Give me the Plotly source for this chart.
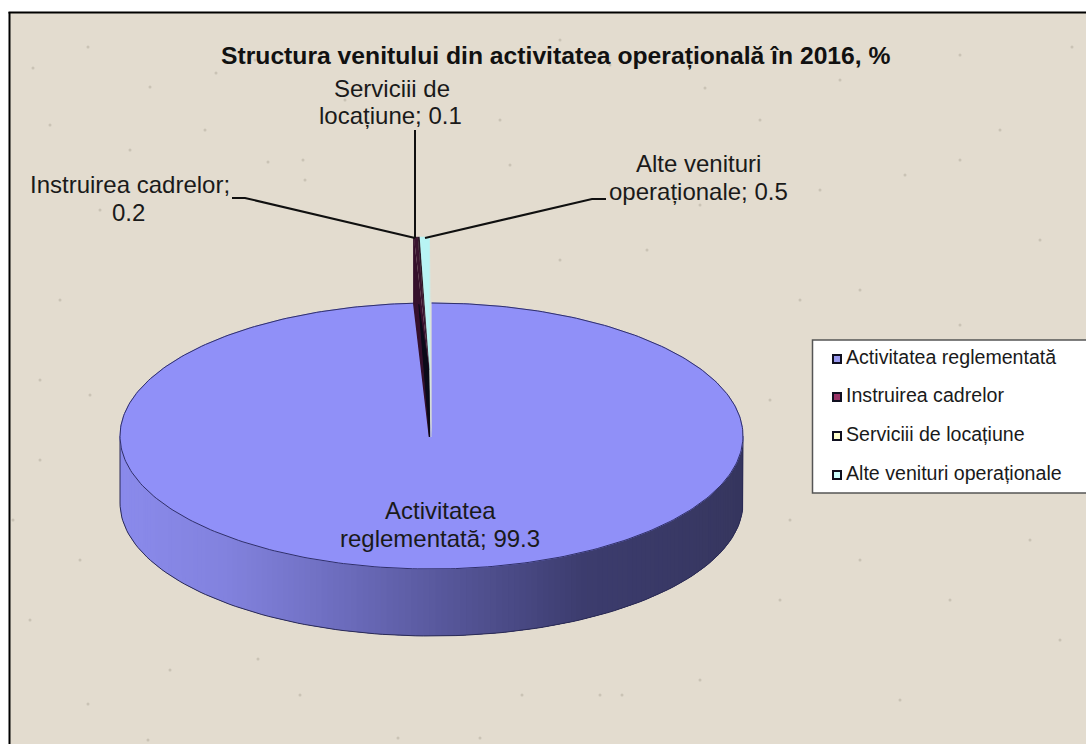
import math
import plotly.graph_objects as go

# ---- data ----
categories = ["Activitatea reglementată", "Instruirea cadrelor", "Serviciii de locațiune", "Alte venituri operaționale"]
values = [99.3, 0.2, 0.1, 0.5]
title_text = "Structura venitului din activitatea operațională în 2016, %"
top_colors = ["#9090F8", "#3A1530", "#2A1A28", "#B8F4F4"]
legend_colors = ["#9999EE", "#993366", "#FFFFCC", "#CCFFFF"]

# ---- layout geometry (pixels of the 1086x744 canvas) ----
W, H = 1086, 744
CX, CY, RX, RY, DEPTH = 431.5, 436, 311.5, 133, 67
EXPLODE_X, EXPLODE_Y = -2, -66
TEXT = "#1a1a1a"
FONT = "Liberation Sans"

# side wall shading, keyed on horizontal position across the pie (0 = left, 1 = right)
wall_stops = [(0.0, (138, 138, 235)), (0.15, (130, 130, 222)), (0.3, (112, 112, 195)),
              (0.52, (84, 84, 150)), (0.72, (60, 60, 110)), (1.0, (54, 54, 94))]

# faint specks of the paper texture background
specks = [(150, 87), (33, 68), (88, 47), (50, 125), (130, 150), (100, 210), (205, 130), (216, 73), (303, 160),
          (362, 88), (305, 180), (268, 162), (345, 100), (255, 60), (500, 120), (610, 65), (705, 88), (760, 120),
          (840, 80), (960, 55), (1072, 47), (1000, 130), (905, 175), (820, 190), (960, 160), (1040, 240), (860, 290),
          (700, 205), (647, 250), (560, 260), (510, 165), (560, 40), (60, 300), (90, 395), (40, 460), (80, 560),
          (30, 620), (88, 704), (148, 740), (258, 659), (300, 695), (522, 695), (600, 695), (622, 695), (700, 680),
          (780, 600), (860, 560), (950, 600), (1030, 540), (1060, 640), (900, 700), (480, 738), (398, 738), (170, 670),
          (800, 300), (960, 325), (770, 400), (790, 520), (13, 520), (40, 380)]


def lerp_color(t):
    for (a, ca), (b, cb) in zip(wall_stops, wall_stops[1:]):
        if t <= b:
            f = (t - a) / (b - a)
            return "rgb(%d,%d,%d)" % tuple(round(p + (q - p) * f) for p, q in zip(ca, cb))
    return "rgb(%d,%d,%d)" % wall_stops[-1][1]


def rim(a, dx=0.0, dy=0.0):
    """point on the pie rim; a = clockwise angle in degrees from 12 o'clock"""
    r = math.radians(a)
    return CX + dx + RX * math.sin(r), CY + dy - RY * math.cos(r)


def arc(a0, a1, n, dx=0.0, dy=0.0):
    pts = [rim(a0 + (a1 - a0) * i / n, dx, dy) for i in range(n + 1)]
    return [p[0] for p in pts], [p[1] for p in pts]


fig = go.Figure()


def poly(xs, ys, fill, line=None, lw=1, name=""):
    fig.add_trace(go.Scatter(x=xs, y=ys, mode="lines", fill="toself", fillcolor=fill, name=name,
                             line=dict(color=line or fill, width=lw), hoverinfo="skip", showlegend=False))


# background specks
fig.add_trace(go.Scatter(x=[s[0] for s in specks], y=[s[1] for s in specks], mode="markers",
                         marker=dict(size=3, color="#B9B2A4", opacity=0.6), hoverinfo="skip", showlegend=False))

# angles of the slices, clockwise from 12 o'clock
total = sum(values)
angles = [0]
for v in values:
    angles.append(angles[-1] + v / total * 360)
main_end = angles[1]

# front wall of the main slice: overlapping strips painted from right to left, so no seams
N = 160
for i in range(N):
    a1 = 90 + 180 * (i + 1) / N
    a0 = max(90, 90 + 180 * i / N - 3)
    xa, ya = arc(a0, a1, 4)
    xb, yb = arc(a1, a0, 4, 0, DEPTH)
    tm = (rim(a1 - 90 / N)[0] - (CX - RX)) / (2 * RX)
    fig.add_trace(go.Scatter(x=xa + xb, y=ya + yb, mode="lines", fill="toself", fillcolor=lerp_color(tm),
                             line=dict(width=0), hoverinfo="skip", showlegend=False))
# outline of the wall
xo, yo = arc(90, 270, 120, 0, DEPTH)
x1, y1 = rim(90)
x2, y2 = rim(270)
fig.add_trace(go.Scatter(x=[x1] + xo + [x2], y=[y1] + yo + [y2], mode="lines", line=dict(color="#2b2b55", width=1),
                         hoverinfo="skip", showlegend=False))

# main slice top
xs, ys = arc(0, main_end, 360)
poly(xs + [CX], ys + [CY], top_colors[0], "#8a8aee", 1, categories[0])
fig.add_trace(go.Scatter(x=xs, y=ys, mode="lines", line=dict(color="#30306a", width=1), hoverinfo="skip", showlegend=False))

# pulled-out small slices: cut walls first, then tops
ax, ay = CX + EXPLODE_X, CY + EXPLODE_Y
lx, ly = rim(angles[1], EXPLODE_X, EXPLODE_Y)
rx_, ry_ = rim(360, EXPLODE_X, EXPLODE_Y)
poly([lx, lx, ax, ax], [ly, ly + DEPTH, ay + DEPTH, ay], "#35102c", "#35102c", 1.5, "wall")
poly([lx + 5, ax, ax], [ly + DEPTH, ay + DEPTH, ay], "#0a0a18", "#0a0a18", 1, "wall low")
poly([rx_, rx_ + 1.5, ax + 1.5, ax], [ry_, ry_ + DEPTH, ay + DEPTH, ay], "#d8e4dc", "#d8e4dc", 0.5, "right wall")
for i in (1, 2, 3):
    xs, ys = arc(angles[i], angles[i + 1], 4, EXPLODE_X, EXPLODE_Y)
    poly(xs + [ax], ys + [ay], top_colors[i], None, 0.5, categories[i])

# leader lines
leaders = [([232, 245, 415], [198, 198, 238]),
           ([415, 415], [130, 238]),
           ([606, 592, 425], [199, 199, 238])]
for lxs, lys in leaders:
    fig.add_trace(go.Scatter(x=lxs, y=lys, mode="lines", line=dict(color="#101010", width=2), hoverinfo="skip", showlegend=False))

# legend box, drawn as markers with text labels
leg_y = [359, 397, 436, 475]
fig.add_trace(go.Scatter(x=[837] * 4, y=leg_y, mode="markers",
                         marker=dict(symbol="square", size=8, color=legend_colors, line=dict(color="#101020", width=2)),
                         hoverinfo="skip", showlegend=False))
fig.add_trace(go.Scatter(x=[846] * 4, y=leg_y, mode="text", text=categories, textposition="middle right",
                         textfont=dict(family=FONT, size=19.6, color=TEXT), hoverinfo="skip", showlegend=False))

shapes = [
    dict(type="rect", x0=9, x1=W, y0=12, y1=H, fillcolor="#E3DCCF", line=dict(width=0), layer="below"),
    dict(type="rect", x0=812.5, x1=1090, y0=340, y1=493, fillcolor="white", line=dict(color="#555555", width=1.5), layer="below"),
    dict(type="line", x0=9.5, x1=9.5, y0=12, y1=H, line=dict(color="black", width=2), layer="above"),
    dict(type="line", x0=8.5, x1=W, y0=12.5, y1=12.5, line=dict(color="black", width=2), layer="above"),
]


def label(text, x, y, size=24):
    return dict(text=text, x=x, y=y, xref="x", yref="y", showarrow=False, align="center",
                font=dict(family=FONT, size=size, color=TEXT), xanchor="center", yanchor="middle")


annotations = [
    dict(text="<b>%s</b>" % title_text, x=556, y=56, xref="x", yref="y", showarrow=False,
         font=dict(family=FONT, size=24.7, color="#111111"), xanchor="center", yanchor="middle"),
    label("Serviciii de", 392, 88),
    label("locațiune; %s" % values[2], 390, 115),
    label("Instruirea cadrelor;", 130, 184),
    label(str(values[1]), 128, 212),
    label("Alte venituri", 698, 163),
    label("operaționale; %s" % values[3], 698, 191),
    label("Activitatea", 440, 510),
    label("reglementată; %s" % values[0], 440, 538),
]

fig.update_layout(
    width=W, height=H, margin=dict(l=0, r=0, t=0, b=0), paper_bgcolor="white", plot_bgcolor="white",
    xaxis=dict(range=[0, W], visible=False, fixedrange=True),
    yaxis=dict(range=[H, 0], visible=False, fixedrange=True),
    shapes=shapes, annotations=annotations, showlegend=False,
)
fig.write_html("out.html", config={"displayModeBar": False},
               post_script="document.body.style.margin='0';document.body.style.overflow='hidden';")
